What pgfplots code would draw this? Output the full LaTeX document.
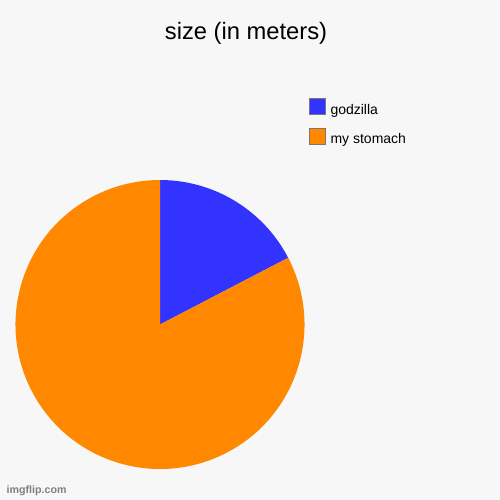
\documentclass[border=0pt]{standalone}
\usepackage{pgfplots}
\pgfplotsset{compat=1.18}
\usepackage{pgfplotstable}
\usepackage{fontspec}
\setmainfont{Liberation Sans}
\definecolor{bg}{HTML}{F7F7F7}
\definecolor{cgodz}{HTML}{3333FF}
\definecolor{cstom}{HTML}{FF8800}
\definecolor{cbord}{HTML}{777777}
\pgfplotstableread{
label value
godzilla 17.36
stomach 82.64
}\piedata
\pgfplotstablegetelem{0}{value}\of\piedata \let\vA\pgfplotsretval
\pgfplotstablegetelem{1}{value}\of\piedata \let\vB\pgfplotsretval
\pgfmathsetmacro{\aMid}{90-360*\vA/(\vA+\vB)}
\pgfmathsetmacro{\aEnd}{90-360}
\begin{document}
\begin{tikzpicture}
\begin{axis}[x=0.75pt, y=0.75pt, xmin=0, xmax=500, ymin=0, ymax=500,
  hide axis, clip=false,
  legend style={at={(axis cs:309,401.7)}, anchor=north west, draw=none, fill=none,
    inner sep=0pt, outer sep=0pt, row sep=7.3pt,
    font=\fontsize{10.5}{12}\selectfont,
    nodes={inner sep=0pt, text height=8pt, text depth=2.5pt}},
  legend cell align=left,
  /tikz/every even column/.append style={column sep=0pt},
]
\fill[bg] (axis cs:0,0) rectangle (axis cs:500,500);
\coordinate (bl) at (axis cs:0,0);
\coordinate (tr) at (axis cs:500,500);
\fill[cgodz] (axis cs:160,175.5) -- ++(90:108.375pt) arc[start angle=90, end angle=\aMid, radius=108.375pt] -- cycle;
\fill[cstom] (axis cs:160,175.5) -- ++(\aMid:108.375pt) arc[start angle=\aMid, end angle=\aEnd, radius=108.375pt] -- cycle;
\addlegendimage{fill=cgodz, draw=cbord, legend image code/.code={\draw (0pt,-2.75pt) rectangle (12pt,9.25pt);}}
\addlegendentry{\hspace{3.75pt}godzilla}
\addlegendimage{fill=cstom, draw=cbord, legend image code/.code={\draw (0pt,-2.75pt) rectangle (12pt,9.25pt);}}
\addlegendentry{\hspace{3.75pt}my stomach}
\node[anchor=base, font=\fontsize{17.8}{21}\selectfont] at (axis cs:246,460) {size (in meters)};
\node[anchor=base west, font=\bfseries\fontsize{8}{9}\selectfont, text=gray] at (axis cs:2,7) {imgflip.com};
\end{axis}
\pgfresetboundingbox
\useasboundingbox (bl) rectangle (tr);
\end{tikzpicture}
\end{document}
